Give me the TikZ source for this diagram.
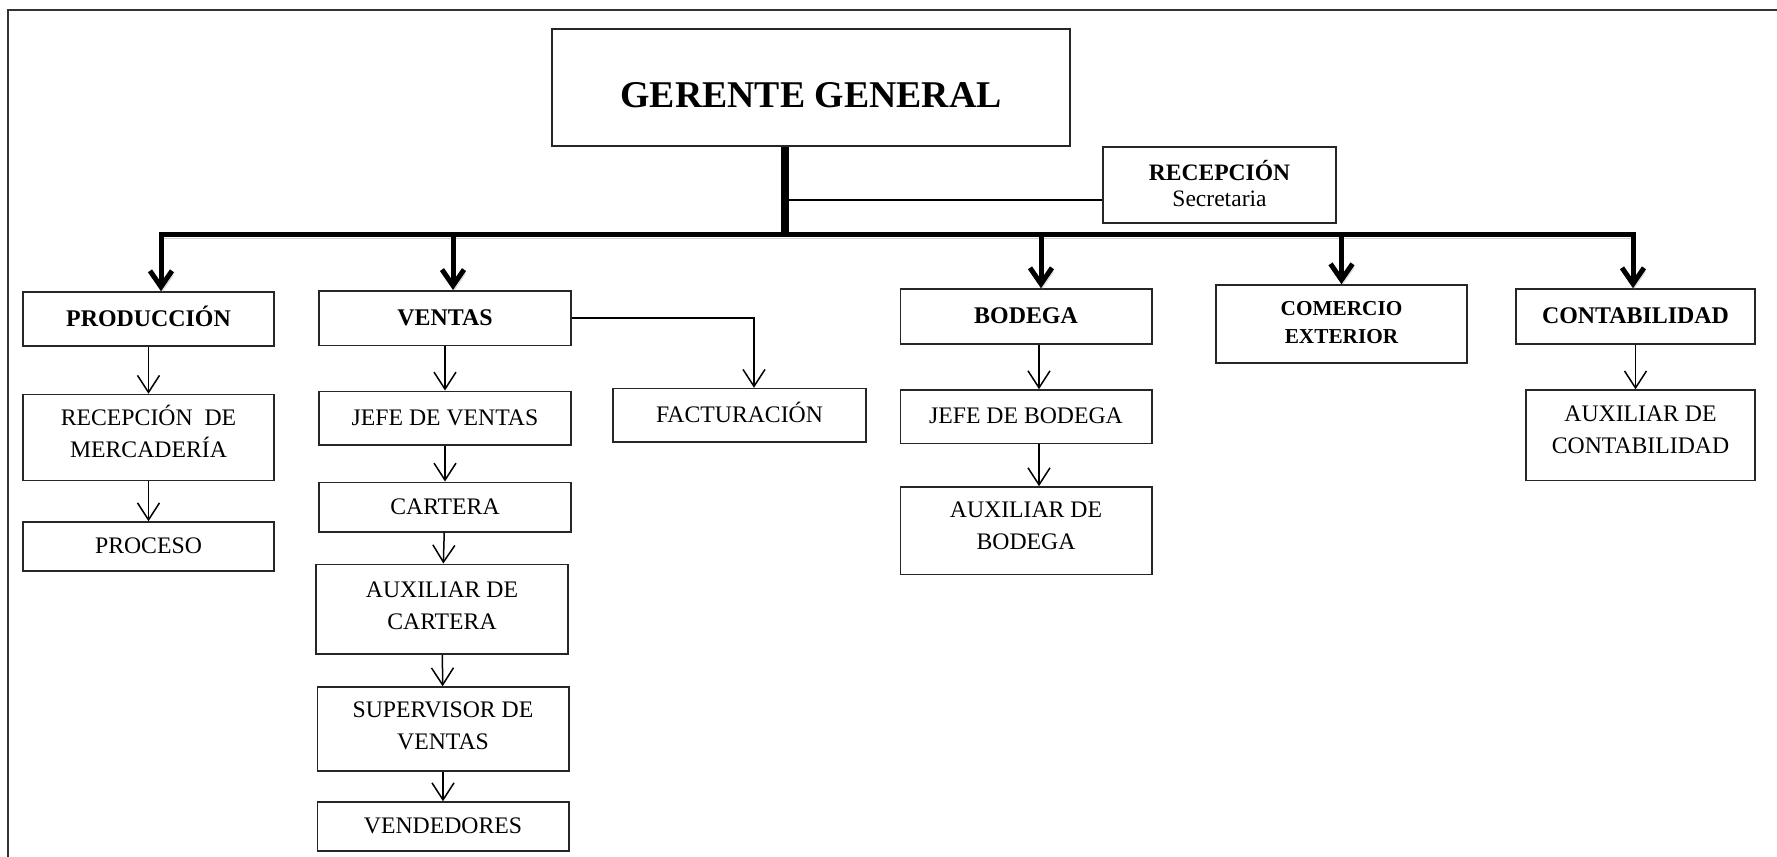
\documentclass[tikz,border=0pt]{standalone}
\usepackage{fontspec}
\setmainfont{Liberation Serif}
\usetikzlibrary{arrows.meta}

\begin{document}
\begin{tikzpicture}[x=0.2mm,y=-0.2mm,
	box/.style={draw=black!85,line width=0.3mm,rectangle,inner sep=0pt,align=center,minimum width=50.3mm},
	boss/.style={box,font=\fontsize{21.5}{26}\selectfont\bfseries,text height=8.2mm,text depth=0pt},
	dept/.style={box,font=\fontsize{13.6}{18}\selectfont\bfseries,text height=3.3mm,text depth=0.4mm},
	unit/.style={box,font=\fontsize{13.5}{18.2}\selectfont,text height=3.3mm,text depth=0.4mm},
	twoline/.style={box,font=\fontsize{13.5}{18.2}\selectfont,text depth=2mm},
	bigarrow/.style={line width=1mm,-{Straight Barb[length=3.2mm,width=4.4mm]},
		preaction={draw=black!18,transform canvas={shift={(0.3mm,-0.8mm)}}}},
	smallarrow/.style={line width=0.3mm,-{Straight Barb[length=3.4mm,width=4.4mm]}},
	trunkline/.style={line width=1.6mm},
	thinline/.style={line width=0.3mm}]
	\useasboundingbox (0,0) rectangle (1777,857);
	%FRAME
	\draw[line width=0.3mm,black!80] (8,857) |- (1777,10);

	%LEVEL 1
	\node [boss,minimum width=103.6mm,minimum height=23.4mm] (GG) at (811,87.5) {GERENTE GENERAL};
	\node [box,minimum width=46.6mm,minimum height=15.2mm,font=\fontsize{13.4}{15.2}\selectfont,text depth=0.6mm] (REC) at (1219.5,185) {\textbf{RECEPCIÓN}\\Secretaria};
	\coordinate (hub) at (785,234);
	\coordinate (sec) at (785,200);
	\draw[trunkline] (hub |- GG.south) -- (hub);
	\draw[thinline] (sec) -- (sec -| REC.west);

	%LEVEL 2
	\node [dept,minimum width=50.2mm,minimum height=10.8mm] (PROD) at (148.5,319) {PRODUCCIÓN};
	\node [dept,minimum width=50.4mm,minimum height=10.9mm] (VEN) at (445,318) {VENTAS};
	\node [dept,minimum height=11mm] (BOD) at (1026,316.5) {BODEGA};
	\node [box,minimum width=50.2mm,minimum height=15.6mm,font=\fontsize{12.1}{15.8}\selectfont\bfseries,text depth=0.6mm] (COM) at (1341.5,324) {COMERCIO\\EXTERIOR};
	\node [dept,minimum width=47.8mm,minimum height=11mm] (CON) at (1635.5,316.5) {CONTABILIDAD};
	\draw[bigarrow] (hub) -| ([xshift=2.5mm]PROD.north);
	\draw[bigarrow] (hub) -| ([xshift=-0.5mm]CON.north);
	\draw[bigarrow] ([xshift=1.6mm]VEN.north |- hub) -- ([xshift=1.6mm]VEN.north);
	\draw[bigarrow] ([xshift=3mm]BOD.north |- hub) -- ([xshift=3mm]BOD.north);
	\draw[bigarrow] (COM.north |- hub) -- (COM.north);

	%LEVEL 3 PRODUCCION
	\node [twoline,minimum width=50.2mm,minimum height=17.2mm,text depth=2.3mm] (PROD1) at (148.5,437.5) {RECEPCIÓN\ \ DE\\MERCADERÍA};
	\node [unit,minimum width=50.2mm,minimum height=9.8mm] (PROD2) at (148.5,546.5) {PROCESO};
	\draw[smallarrow] (PROD) -- (PROD1);
	\draw[smallarrow] (PROD1) -- (PROD2);

	%LEVEL 3 VENTAS
	\node [unit,minimum width=50.4mm,minimum height=10.7mm] (VEN1) at (445,418) {JEFE DE VENTAS};
	\node [unit,minimum width=50.4mm,minimum height=9.9mm] (VEN2) at (445,507) {CARTERA};
	\node [twoline,minimum width=50.4mm,minimum height=17.9mm,text depth=1.4mm] (VEN3) at (442,609) {AUXILIAR DE\\CARTERA};
	\node [twoline,minimum height=16.8mm,text depth=1.4mm] (VEN4) at (443,729) {SUPERVISOR DE\\VENTAS};
	\node [unit,minimum height=9.8mm] (VEN5) at (443,826.5) {VENDEDORES};
	\node [unit,minimum width=50.6mm,minimum height=10.7mm] (FACT) at (739.5,415.3) {FACTURACIÓN};
	\draw[smallarrow] (VEN) -- (VEN1);
	\draw[smallarrow] (VEN1) -- (VEN2);
	\draw[smallarrow] (VEN2) -- (VEN3);
	\draw[smallarrow] (VEN3) -- (VEN4);
	\draw[smallarrow] (VEN4) -- (VEN5);
	\draw[smallarrow] (VEN.east) -| ([xshift=2.9mm]FACT.north);

	%LEVEL 3 BODEGA
	\node [unit,minimum height=10.7mm] (BOD1) at (1026,416.7) {JEFE DE BODEGA};
	\node [twoline,minimum height=17.5mm] (BOD2) at (1026,530.7) {AUXILIAR DE\\BODEGA};
	\draw[smallarrow] ([xshift=2.6mm]BOD.south) -- ([xshift=2.6mm]BOD1.north);
	\draw[smallarrow] ([xshift=2.6mm]BOD1.south) -- ([xshift=2.6mm]BOD2.north);

	%LEVEL 3 CONTABILIDAD
	\node [twoline,minimum width=45.8mm,minimum height=18.1mm,text depth=2.4mm] (CON1) at (1640.5,435.3) {AUXILIAR DE\\CONTABILIDAD};
	\draw[smallarrow] (CON.south) -- (CON.south |- CON1.north);
\end{tikzpicture}
\end{document}
